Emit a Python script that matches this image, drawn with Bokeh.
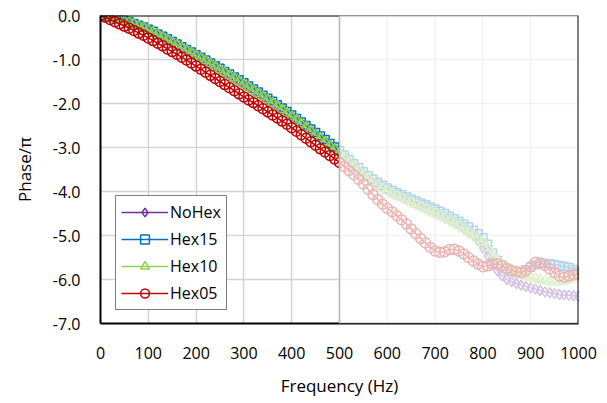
from bokeh.plotting import figure
from bokeh.models import (Range1d, BoxAnnotation, Span, Legend, LegendItem,
                          FixedTicker, ColumnDataSource, NumeralTickFormatter)
from bokeh.embed import file_html
from bokeh.resources import INLINE

freq = list(range(0, 1001, 10))

nohex = [0.00, -0.01, -0.03, -0.05, -0.08, -0.11, -0.15, -0.19, -0.23, -0.27,
         -0.32, -0.37, -0.43, -0.48, -0.54, -0.60, -0.66, -0.72, -0.78, -0.84,
         -0.90, -0.96, -1.02, -1.09, -1.15, -1.22, -1.28, -1.35, -1.41, -1.48,
         -1.55, -1.62, -1.69, -1.76, -1.83, -1.90, -1.97, -2.05, -2.12, -2.20,
         -2.28, -2.36, -2.44, -2.52, -2.60, -2.69, -2.77, -2.85, -2.94, -3.02,
         -3.10, -3.20, -3.30, -3.40, -3.50, -3.59, -3.68, -3.76, -3.84, -3.91,
         -3.97, -4.03, -4.08, -4.13, -4.18, -4.23, -4.28, -4.33, -4.38, -4.43,
         -4.48, -4.53, -4.58, -4.64, -4.70, -4.76, -4.83, -4.91, -5.00, -5.12,
         -5.28, -5.46, -5.64, -5.80, -5.92, -6.00, -6.05, -6.09, -6.13, -6.16,
         -6.19, -6.22, -6.25, -6.28, -6.30, -6.32, -6.34, -6.35, -6.36, -6.37,
         -6.38]

hex15 = [0.00, -0.01, -0.03, -0.05, -0.08, -0.11, -0.14, -0.18, -0.22, -0.26,
         -0.31, -0.36, -0.42, -0.47, -0.53, -0.59, -0.65, -0.71, -0.77, -0.83,
         -0.89, -0.95, -1.01, -1.08, -1.14, -1.20, -1.27, -1.33, -1.40, -1.46,
         -1.53, -1.60, -1.67, -1.74, -1.81, -1.88, -1.95, -2.03, -2.10, -2.18,
         -2.26, -2.34, -2.42, -2.50, -2.58, -2.66, -2.74, -2.82, -2.91, -2.99,
         -3.07, -3.17, -3.27, -3.37, -3.46, -3.55, -3.64, -3.72, -3.79, -3.86,
         -3.92, -3.97, -4.02, -4.07, -4.12, -4.17, -4.21, -4.26, -4.30, -4.35,
         -4.40, -4.45, -4.50, -4.56, -4.62, -4.68, -4.74, -4.80, -4.88, -4.96,
         -5.05, -5.20, -5.40, -5.56, -5.67, -5.75, -5.81, -5.84, -5.83, -5.78,
         -5.72, -5.67, -5.64, -5.63, -5.64, -5.66, -5.68, -5.70, -5.73, -5.77,
         -5.82]

hex10 = [0.00, -0.01, -0.03, -0.06, -0.09, -0.12, -0.15, -0.19, -0.23, -0.27,
         -0.32, -0.38, -0.43, -0.49, -0.55, -0.61, -0.67, -0.73, -0.79, -0.85,
         -0.91, -0.97, -1.03, -1.10, -1.16, -1.23, -1.29, -1.36, -1.42, -1.49,
         -1.56, -1.63, -1.70, -1.77, -1.84, -1.91, -1.99, -2.06, -2.14, -2.22,
         -2.30, -2.38, -2.46, -2.54, -2.62, -2.71, -2.79, -2.87, -2.96, -3.04,
         -3.13, -3.23, -3.33, -3.43, -3.52, -3.61, -3.70, -3.78, -3.86, -3.93,
         -3.99, -4.05, -4.10, -4.15, -4.20, -4.25, -4.30, -4.35, -4.40, -4.45,
         -4.50, -4.55, -4.60, -4.66, -4.72, -4.78, -4.85, -4.92, -4.99, -5.07,
         -5.15, -5.28, -5.42, -5.55, -5.66, -5.74, -5.80, -5.85, -5.89, -5.92,
         -5.95, -5.98, -6.01, -6.03, -6.05, -6.06, -6.05, -6.03, -6.00, -5.95,
         -5.90]

hex05 = [0.00, -0.04, -0.09, -0.14, -0.19, -0.24, -0.29, -0.34, -0.40, -0.45,
         -0.51, -0.57, -0.63, -0.69, -0.76, -0.82, -0.88, -0.95, -1.01, -1.08,
         -1.15, -1.22, -1.29, -1.36, -1.43, -1.50, -1.57, -1.64, -1.71, -1.78,
         -1.85, -1.92, -1.98, -2.05, -2.12, -2.19, -2.26, -2.33, -2.40, -2.47,
         -2.55, -2.63, -2.71, -2.79, -2.87, -2.95, -3.03, -3.10, -3.18, -3.26,
         -3.34, -3.43, -3.52, -3.62, -3.72, -3.83, -3.95, -4.07, -4.18, -4.29,
         -4.38, -4.46, -4.55, -4.64, -4.74, -4.85, -4.96, -5.07, -5.17, -5.27,
         -5.35, -5.38, -5.37, -5.32, -5.31, -5.35, -5.42, -5.50, -5.58, -5.65,
         -5.71, -5.69, -5.65, -5.64, -5.69, -5.75, -5.79, -5.82, -5.84, -5.80,
         -5.71, -5.61, -5.62, -5.68, -5.76, -5.84, -5.92, -5.95, -5.92, -5.89,
         -5.87]

names = ["NoHex", "Hex15", "Hex10", "Hex05"]
colors = ["#7030A0", "#0070C0", "#92D050", "#C00000"]
markers = ["diamond", "square", "triangle", "circle"]
sizes = [10, 8, 10, 10]
values = [nohex, hex15, hex10, hex05]

x_ticks = [0, 100, 200, 300, 400, 500, 600, 700, 800, 900, 1000]
y_ticks = [0, -1, -2, -3, -4, -5, -6, -7]

FONT = "Open Sans"

p = figure(width=600, height=400, output_backend="svg", toolbar_location=None,
           x_range=Range1d(0, 1000), y_range=Range1d(-7, 0),
           min_border_left=100, min_border_right=22, min_border_top=15,
           min_border_bottom=77)
p.background_fill_color = "white"
p.border_fill_color = "white"
p.outline_line_color = None

p.xaxis.ticker = FixedTicker(ticks=x_ticks)
p.yaxis.ticker = FixedTicker(ticks=y_ticks)
p.yaxis.formatter = NumeralTickFormatter(format="0.0")
for ax in (p.xaxis, p.yaxis):
    ax.axis_line_color = "black"
    ax.axis_line_width = 2
    ax.major_tick_line_color = None
    ax.minor_tick_line_color = None
    ax.major_tick_out = 0
    ax.major_tick_in = 0
    ax.minor_tick_out = 0
    ax.minor_tick_in = 0
    ax.major_label_text_font = FONT
    ax.major_label_text_font_size = "16px"
    ax.major_label_text_color = "black"
    ax.axis_label_text_font = FONT
    ax.axis_label_text_font_size = "17px"
    ax.axis_label_text_font_style = "normal"
    ax.axis_label_text_color = "black"
p.xaxis.axis_label = "Frequency (Hz)"
p.yaxis.axis_label = "Phase/\u03c0"
p.xaxis.major_label_standoff = 23
p.xaxis.axis_label_standoff = 12
p.yaxis.major_label_standoff = 20
p.yaxis.axis_label_standoff = 14

p.xgrid.grid_line_color = "#d4d4d4"
p.ygrid.grid_line_color = "#d4d4d4"
p.xgrid.grid_line_width = 1.5
p.ygrid.grid_line_width = 1.5

items = []
for name, vals, color, marker, size in zip(names, values, colors, markers, sizes):
    src = ColumnDataSource(dict(f=freq, v=vals))
    ln = p.line("f", "v", source=src, line_color=color, line_width=1.5)
    sc = p.scatter("f", "v", source=src, marker=marker, size=size,
                   line_color=color, fill_color=None, line_width=1.5)
    items.append(LegendItem(label=name, renderers=[ln, sc]))

# top border (left half stays strong, right half is faded by overlay)
p.add_layout(Span(location=0, dimension="width", line_color="black", line_width=2))
# faded right half
p.add_layout(BoxAnnotation(left=500, right=1000, bottom=-7, top=0,
                           fill_color="white", fill_alpha=0.7, line_color=None))
p.add_layout(Span(location=500, dimension="height", line_color="#b8b8b8", line_width=1.5))
p.add_layout(Span(location=1000, dimension="height", line_color="black", line_width=2))

legend = Legend(items=items, location=(15, 13), orientation="vertical")
legend.label_text_font = FONT
legend.label_text_font_size = "16px"
legend.label_text_color = "black"
legend.border_line_color = "black"
legend.border_line_width = 1
legend.background_fill_color = "white"
legend.background_fill_alpha = 1
legend.padding = 5
legend.spacing = 5
legend.margin = 0
legend.glyph_width = 47
legend.glyph_height = 22
legend.label_height = 22
legend.label_standoff = 2
p.add_layout(legend)

open("out.html", "w").write(file_html(p, INLINE))
